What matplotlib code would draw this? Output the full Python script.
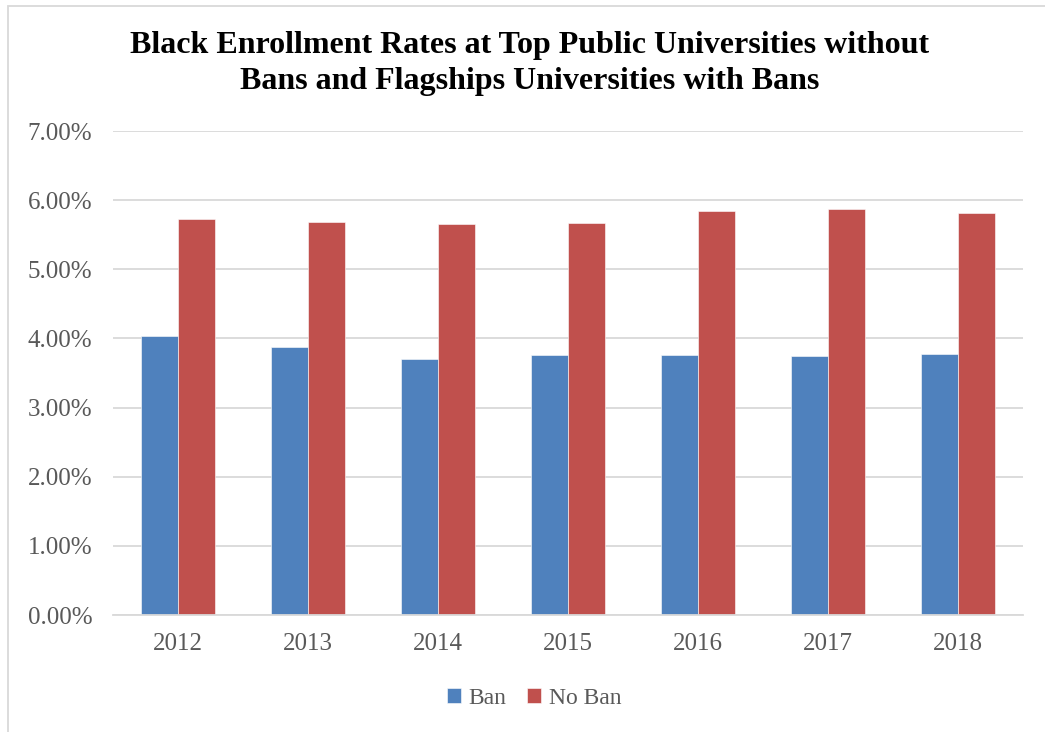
import matplotlib.pyplot as plt
import numpy as np
from matplotlib.patches import Rectangle
from matplotlib.ticker import PercentFormatter

years = ['2012', '2013', '2014', '2015', '2016', '2017', '2018']
ban = [4.04, 3.88, 3.70, 3.76, 3.76, 3.75, 3.77]
no_ban = [5.73, 5.68, 5.66, 5.67, 5.84, 5.87, 5.81]

blue = '#4F81BD'
red = '#C0504D'
grey_text = '#595959'
grid = '#D9D9D9'

fig = plt.figure(figsize=(10.45, 7.32), dpi=100)
ax = fig.add_axes([113 / 1045, 117 / 732, 910 / 1045, 484 / 732])

x = np.arange(len(years))
w = 0.285
ax.bar(x - w / 2, ban, w, color=blue, edgecolor='white', linewidth=0.4, label='Ban', zorder=2)
ax.bar(x + w / 2, no_ban, w, color=red, edgecolor='white', linewidth=0.4, label='No Ban', zorder=2)

ax.set_xlim(-0.5, len(years) - 0.5)
ax.set_ylim(0, 7)
ax.set_yticks(np.arange(0, 8, 1))
ax.yaxis.set_major_formatter(PercentFormatter(decimals=2))
ax.set_xticks(x)
ax.set_xticklabels(years)
ax.grid(axis='y', color=grid, linewidth=1.3, zorder=0)
for s in ['top', 'right', 'left']:
    ax.spines[s].set_visible(False)
ax.spines['bottom'].set_color(grid)
ax.spines['bottom'].set_linewidth(1.3)
ax.tick_params(length=0, labelsize=18, labelcolor=grey_text)
ax.tick_params(axis='y', pad=15)
ax.tick_params(axis='x', pad=13)
for lab in ax.get_xticklabels() + ax.get_yticklabels():
    lab.set_fontfamily('Liberation Serif')

fig.text(0.507, 0.913, 'Black Enrollment Rates at Top Public Universities without\n'
         'Bans and Flagships Universities with Bans',
         ha='center', va='center', fontsize=23, fontweight='bold',
         family='Liberation Serif', linespacing=1.3)

fig.legend(loc='center', bbox_to_anchor=(0.511, 0.046), ncol=2, frameon=False,
           prop={'family': 'Liberation Serif', 'size': 17}, labelcolor=grey_text,
           handlelength=0.6, handleheight=0.6, handletextpad=0.3, columnspacing=0.9)

# chart frame
fig.patches.append(Rectangle((8 / 1045, -0.1), 1.2, 1 - 6 / 732 + 0.1,
                             transform=fig.transFigure, fill=False,
                             edgecolor='#D9D9D9', linewidth=1.3))

fig.savefig('out.png', dpi=100)
